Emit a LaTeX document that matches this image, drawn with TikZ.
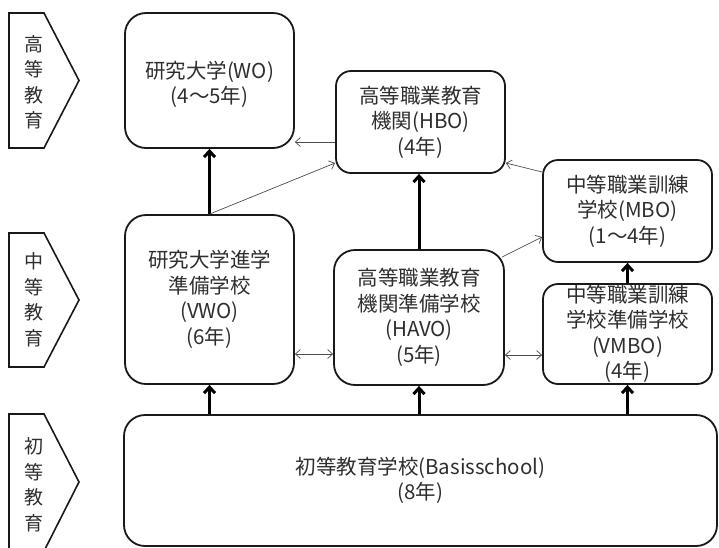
\documentclass[tikz,border=0pt]{standalone}
\usepackage{fontspec}
\setmainfont{Noto Sans CJK JP}
\usetikzlibrary{arrows.meta}
\newcommand{\boxfont}{\fontsize{20.5}{25.5}\selectfont}
\newcommand{\sidefont}{\fontsize{19}{25.5}\selectfont}
\begin{document}
\begin{tikzpicture}[x=1pt,y=-1pt,
  box/.style={draw=black!90, line width=1.8pt, rounded corners=15pt, align=center,
    font=\boxfont, text=black!82, inner sep=0pt},
  bigbox/.style={box, rounded corners=21pt},
  side/.style={draw=black!90, line width=1.6pt, line join=miter},
  sidetext/.style={align=center, font=\sidefont, text=black!82, inner sep=0pt},
  up/.style={line width=3pt, draw=black, -{Straight Barb[length=6pt,width=11pt]}},
  thin/.style={line width=0.7pt, draw=black!70, -{Straight Barb[length=5pt,width=9pt]}},
  both/.style={line width=0.7pt, draw=black!70, {Straight Barb[length=5pt,width=9pt]}-{Straight Barb[length=5pt,width=9pt]}}
]
\useasboundingbox (0,0) rectangle (719,547);

% side chevrons
\draw[side] (9,13) -- (44,13) -- (79,80.5) -- (44,148) -- (9,148) -- cycle;
\draw[side] (9,233) -- (44,233) -- (79,300) -- (44,367) -- (9,367) -- cycle;
\draw[side] (9,560) -- (9,414) -- (44,414) -- (79,482) -- (39.5,560);
\node[sidetext] (s1) at (34,82.5) {高\\等\\教\\育};
\node[sidetext] (s2) at (34,300) {中\\等\\教\\育};
\node[sidetext] (s3) at (34,485) {初\\等\\教\\育};

% boxes
\node[bigbox, minimum width=169pt, minimum height=135pt] (WO) at (209.5,80.5) {\rule{0pt}{25pt}研究大学(WO)\\(4〜5年)};
\node[box, minimum width=169pt, minimum height=102pt] (HBO) at (420.5,122) {高等職業教育\\機関(HBO)\\(4年)};
\node[box, minimum width=169pt, minimum height=102pt] (MBO) at (627.5,211) {中等職業訓練\\学校(MBO)\\(1〜4年)};
\node[bigbox, minimum width=169pt, minimum height=169pt] (VWO) at (209.5,299.5) {研究大学進学\\準備学校\\(VWO)\\(6年)};
\node[bigbox, minimum width=170pt, minimum height=135pt] (HAVO) at (419,317.5) {高等職業教育\\機関準備学校\\(HAVO)\\(5年)};
\node[box, minimum width=169pt, minimum height=100pt] (VMBO) at (627.5,334) {中等職業訓練\\学校準備学校\\(VMBO)\\(4年)};
\node[bigbox, minimum width=593pt, minimum height=131pt] (BAS) at (420.5,480.5) {初等教育学校(Basisschool)\\(8年)};

% thick arrows
\draw[up] (VWO.north) -- (WO.south);
\draw[up] (HAVO.north) -- (HAVO.north |- HBO.south);
\draw[up] (VMBO.north) -- (MBO.south);
\draw[up] (VWO.south |- BAS.north) -- (VWO.south);
\draw[up] (HAVO.south |- BAS.north) -- (HAVO.south);
\draw[up] (VMBO.south |- BAS.north) -- (VMBO.south);

% thin arrows
\draw[thin] ([yshift=-20pt]HBO.west) -- ([yshift=-20pt]HBO.west -| WO.east);
\draw[thin] (VWO.north) -- ([yshift=-41pt]HBO.west);
\draw[thin] ([yshift=39pt]MBO.west) -- ([yshift=-41pt]HBO.east);
\draw[thin] ([xshift=-3pt,yshift=-8pt]HAVO.north east) -- ([yshift=-26pt]MBO.west);
\draw[both] ([yshift=-54.5pt]VWO.east) -- ([yshift=-54.5pt]VWO.east -| HAVO.west);
\draw[both] ([yshift=-37.5pt]HAVO.east) -- ([yshift=-37.5pt]HAVO.east -| VMBO.west);
\end{tikzpicture}
\end{document}
